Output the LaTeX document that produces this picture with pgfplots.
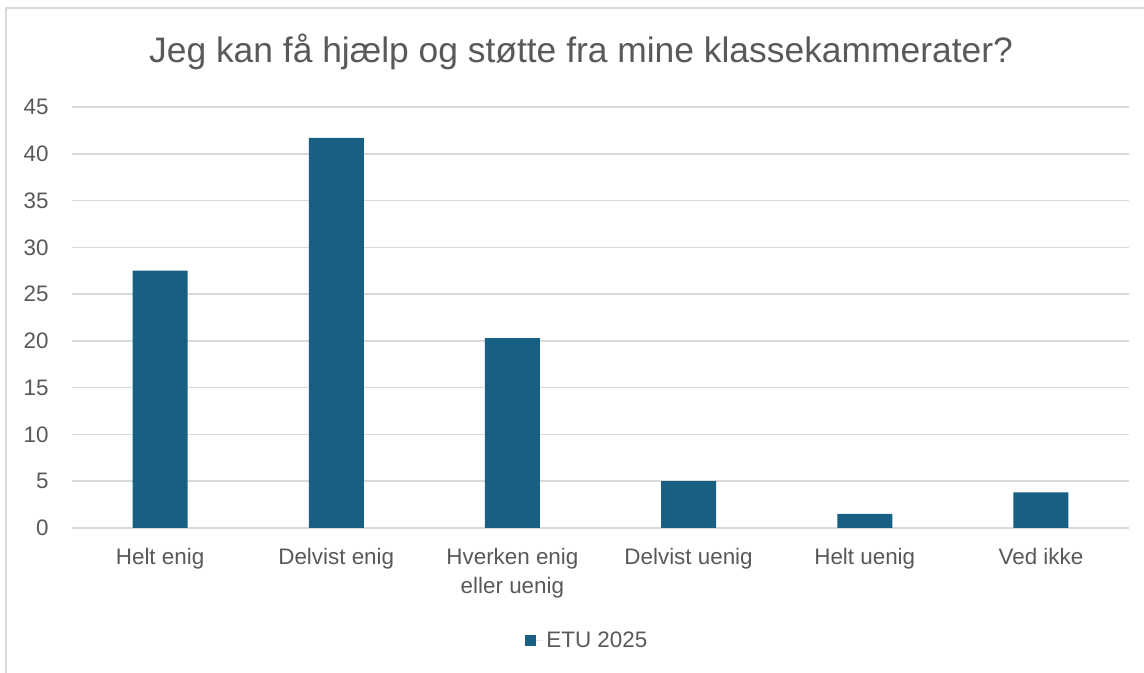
\documentclass[border=0pt]{standalone}
\usepackage{fontspec}
\setmainfont{Liberation Sans}
\usepackage{pgfplots}
\pgfplotsset{compat=1.18}
\definecolor{barblue}{RGB}{23,95,131}
\definecolor{txt}{RGB}{89,89,89}
\definecolor{gridc}{RGB}{217,217,217}
\begin{document}
\begin{tikzpicture}
\useasboundingbox (0,0) rectangle (572pt,336.5pt);
\fill[white] (0,0) rectangle (572pt,336.5pt);
\draw[gridc, line width=0.75pt] (3pt,0) -- (3pt,332.5pt) -- (572pt,332.5pt);
\node[font=\fontsize{17.7}{21}\selectfont, text=txt, anchor=base] at (290.5pt,305pt) {Jeg kan få hjælp og støtte fra mine klassekammerater?};
\begin{axis}[
  at={(36pt,72.5pt)}, anchor=south west,
  scale only axis, width=528.5pt, height=210.5pt,
  xmin=-0.5, xmax=5.5, ymin=0, ymax=45,
  ytick={0,5,...,45},
  xtick=data,
  xticklabels={Helt enig, Delvist enig, {Hverken enig\\eller uenig}, Delvist uenig, Helt uenig, Ved ikke},
  xticklabel style={align=center, text=txt, font=\fontsize{11.2}{14.5}\selectfont, anchor=north, inner sep=0pt, yshift=-10pt},
  yticklabel style={text=txt, font=\fontsize{11.2}{13}\selectfont, anchor=east, inner sep=0pt, xshift=-11.5pt},
  /pgf/number format/assume math mode=true,
  major tick length=0pt,
  axis line style={draw=none},
  ymajorgrids, grid style={gridc, line width=0.75pt},
  ybar, bar width=27.5pt,
  legend style={at={(0.4885,-0.268)}, anchor=center, draw=none, fill=none, font=\fontsize{11.2}{13}\selectfont, text=txt},
  legend image code/.code={\fill[barblue] (0pt,-2.4pt) rectangle (5.5pt,3.1pt); \path (0pt,0pt) -- (8.5pt,0pt);},
]
\addplot[fill=barblue, draw=none] coordinates {(0,27.5) (1,41.7) (2,20.3) (3,5.0) (4,1.5) (5,3.8)};
\addlegendentry{ETU 2025}
\end{axis}
\end{tikzpicture}
\end{document}
